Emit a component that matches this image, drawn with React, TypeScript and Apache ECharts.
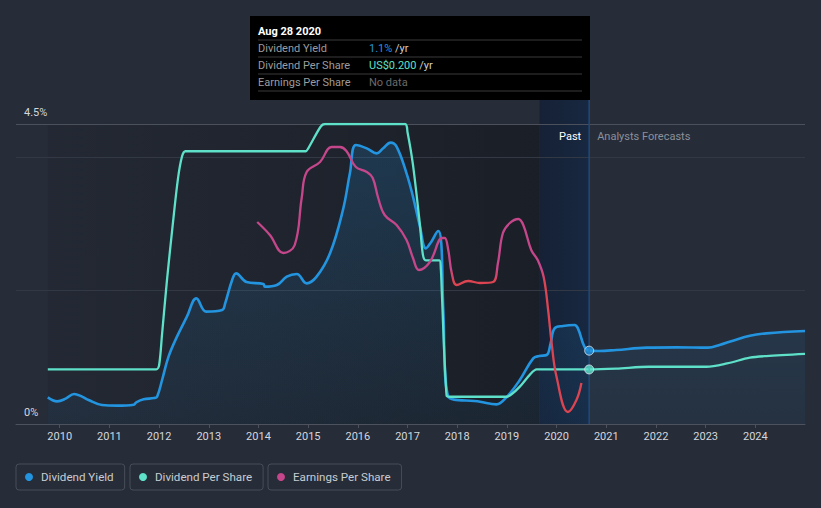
import React, { useEffect, useRef } from "react";
import * as echarts from "echarts";

// ---------- data ----------
const yearTicks = [2010, 2011, 2012, 2013, 2014, 2015, 2016, 2017, 2018, 2019, 2020, 2021, 2022, 2023, 2024];

// Dividend yield, % (decimal year, value)
const dividendYield: [number, number][] = [
  [2009.76, 0.4], [2009.95, 0.34], [2010.12, 0.38], [2010.29, 0.45], [2010.45, 0.41], [2010.58, 0.36],
  [2010.85, 0.285], [2011.15, 0.275], [2011.49, 0.29], [2011.54, 0.325], [2011.69, 0.37], [2011.9, 0.39],
  [2011.96, 0.41], [2012.06, 0.66], [2012.19, 1.01], [2012.36, 1.31], [2012.56, 1.61], [2012.75, 1.885],
  [2012.95, 1.685], [2013.27, 1.71], [2013.33, 1.81], [2013.47, 2.16], [2013.55, 2.26], [2013.76, 2.13],
  [2014.1, 2.1], [2014.13, 2.06], [2014.37, 2.085], [2014.57, 2.21], [2014.77, 2.25], [2014.97, 2.11],
  [2015.17, 2.21], [2015.44, 2.56], [2015.7, 3.21], [2015.84, 3.76], [2015.96, 4.185], [2016.18, 4.135],
  [2016.38, 4.06], [2016.51, 4.135], [2016.66, 4.22], [2016.78, 4.16], [2016.98, 3.76], [2017.11, 3.41],
  [2017.25, 2.96], [2017.37, 2.635], [2017.48, 2.735], [2017.62, 2.895], [2017.68, 2.71], [2017.72, 1.71],
  [2017.82, 0.41], [2018.46, 0.335], [2018.79, 0.295], [2018.99, 0.4], [2019.26, 0.66], [2019.53, 0.985],
  [2019.65, 1.02], [2019.8, 1.035], [2019.88, 1.21], [2019.96, 1.435], [2020.13, 1.47], [2020.36, 1.485],
  [2020.43, 1.435], [2020.56, 1.16], [2020.656, 1.1], [2020.85, 1.095], [2021.2, 1.11], [2021.81, 1.145],
  [2022.41, 1.15], [2023.05, 1.145], [2023.28, 1.185], [2023.55, 1.25], [2023.89, 1.325], [2024.22, 1.36],
  [2025.0, 1.395],
];

// Dividend per share, US$
const dividendPerShare: [number, number][] = [
  [2009.76, 0.2], [2011.94, 0.2], [2012.0, 0.215], [2012.06, 0.33], [2012.16, 0.53], [2012.28, 0.74],
  [2012.38, 0.9], [2012.46, 0.98], [2012.53, 1.0], [2014.95, 1.0], [2015.0, 1.01], [2015.25, 1.09],
  [2015.34, 1.1], [2016.95, 1.1], [2017.0, 1.07], [2017.11, 0.95], [2017.25, 0.73], [2017.31, 0.62],
  [2017.37, 0.6], [2017.64, 0.6], [2017.67, 0.57], [2017.69, 0.485], [2017.785, 0.106], [2017.85, 0.1],
  [2018.99, 0.1], [2019.1, 0.11], [2019.26, 0.137], [2019.46, 0.18], [2019.6, 0.2], [2020.656, 0.2],
  [2021.2, 0.203], [2021.86, 0.21], [2023.02, 0.21], [2023.43, 0.222], [2023.89, 0.243], [2024.22, 0.249],
  [2025.0, 0.257],
];

// Earnings per share, US$
const earningsPerShare: [number, number][] = [
  [2013.975, 2.02], [2014.23, 1.89], [2014.5, 1.71], [2014.73, 1.79], [2014.87, 2.26], [2014.97, 2.52],
  [2015.24, 2.62], [2015.47, 2.77], [2015.64, 2.77], [2015.77, 2.73], [2015.96, 2.57], [2016.18, 2.52],
  [2016.3, 2.46], [2016.41, 2.26], [2016.54, 2.09], [2016.78, 1.99], [2016.98, 1.84], [2017.11, 1.66],
  [2017.23, 1.54], [2017.45, 1.62], [2017.7, 1.86], [2017.75, 1.86], [2017.82, 1.74], [2017.89, 1.51],
  [2017.99, 1.39], [2018.22, 1.43], [2018.46, 1.41], [2018.72, 1.42], [2018.82, 1.61], [2018.92, 1.91],
  [2019.06, 2.01], [2019.23, 2.05], [2019.33, 1.99], [2019.49, 1.74], [2019.62, 1.64], [2019.74, 1.47],
  [2019.83, 1.14], [2019.9, 0.81], [2020.0, 0.47], [2020.23, 0.12], [2020.4, 0.24], [2020.5, 0.41],
];

const presentDate = 2020.656; // Aug 28 2020
const pastWindowStart = 2019.656;
const presentYield = 1.1;
const presentDps = 0.2;

const seriesNames = ["Dividend Yield", "Dividend Per Share", "Earnings Per Share"];
const seriesColors = ["#2394df", "#5ee0c9", "#c5468b"];
const epsRed = "#dc4451";

const tooltipTitle = "Aug 28 2020";
const tooltipLabels = ["Dividend Yield", "Dividend Per Share", "Earnings Per Share"];
const tooltipValues = ["1.1%", "US$0.200", "No data"];

const FONT = "Roboto, 'Noto Sans', sans-serif";

export default function App() {
  const ref = useRef<HTMLDivElement>(null);

  useEffect(() => {
    if (!ref.current) return;
    const chart = echarts.init(ref.current, null, { renderer: "svg" });

    const option: any = {
      animation: false,
      backgroundColor: "#262c38",
      textStyle: { fontFamily: FONT },
      grid: { left: 16, right: 16, top: 124, bottom: 84, containLabel: false },
      xAxis: {
        type: "value",
        min: 2009.12,
        max: 2025,
        axisLine: { show: true, lineStyle: { color: "#4d525e", width: 1 } },
        axisTick: { show: true, length: 4, lineStyle: { color: "#4d525e" }, customValues: yearTicks },
        axisLabel: {
          color: "#d4d7dd",
          fontSize: 11,
          margin: 7,
          fontFamily: FONT,
          customValues: yearTicks,
          formatter: (v: number) => String(Math.round(v)),
        },
        splitLine: { show: false },
      },
      yAxis: [
        {
          type: "value",
          min: 0,
          max: 4.5,
          interval: 2,
          position: "left",
          axisLine: { show: false },
          axisTick: { show: false },
          axisLabel: {
            inside: true,
            margin: 8,
            color: "#d4d7dd",
            fontSize: 11,
            fontFamily: FONT,
            verticalAlign: "bottom",
            padding: [0, 0, 6, 0],
            showMinLabel: true,
            showMaxLabel: true,
            formatter: (v: number) => (v === 0 ? "0%" : v === 4.5 ? "4.5%" : ""),
          },
          splitLine: {
            show: true,
            lineStyle: { color: ["#4d525e", "#323844", "#323844", "#4b505b"], width: 1 },
          },
          z: 1,
        },
        { type: "value", min: 0, max: 1.1, show: false },
        { type: "value", min: 0, max: 3, show: false },
      ],
      visualMap: {
        show: false,
        type: "piecewise",
        seriesIndex: 2,
        dimension: 1,
        pieces: [
          { lt: 1.45, color: epsRed },
          { gte: 1.45, lt: 1.53, color: "#d2456e" },
          { gte: 1.53, color: seriesColors[2] },
        ],
      },
      legend: seriesNames.map((name, i) => ({
        data: [{ name, icon: "circle", itemStyle: { color: seriesColors[i] } }],
        left: [16, 130, 268][i],
        top: 464,
        itemWidth: 14,
        itemHeight: 8,
        itemGap: 0,
        padding: [7, 11, 7, 9],
        borderColor: "#474d59",
        borderWidth: 1,
        borderRadius: 3,
        selectedMode: false,
        textStyle: { color: "#c8ccd3", fontSize: 11.6, fontFamily: FONT },
      })),
      series: [
        {
          name: seriesNames[0],
          type: "line",
          yAxisIndex: 0,
          data: dividendYield,
          smooth: 0.4,
          showSymbol: false,
          lineStyle: { color: seriesColors[0], width: 2.6 },
          itemStyle: { color: seriesColors[0] },
          areaStyle: {
            color: new echarts.graphic.LinearGradient(0, 0, 0, 1, [
              { offset: 0, color: "rgba(35,148,223,0.28)" },
              { offset: 1, color: "rgba(35,148,223,0.08)" },
            ]),
          },
          z: 3,
        },
        {
          name: seriesNames[1],
          type: "line",
          yAxisIndex: 1,
          data: dividendPerShare,
          smooth: 0.3,
          showSymbol: false,
          lineStyle: { color: seriesColors[1], width: 2.3 },
          itemStyle: { color: seriesColors[1] },
          z: 4,
        },
        {
          name: seriesNames[2],
          type: "line",
          yAxisIndex: 2,
          data: earningsPerShare,
          smooth: 0.4,
          showSymbol: false,
          lineStyle: { width: 2.3 },
          itemStyle: { color: seriesColors[2] },
          z: 4,
        },
        {
          name: "present-yield",
          type: "scatter",
          yAxisIndex: 0,
          data: [[presentDate, presentYield]],
          symbolSize: 9,
          itemStyle: { color: seriesColors[0], borderColor: "#dfe8f2", borderWidth: 1 },
          z: 10,
        },
        {
          name: "present-dps",
          type: "scatter",
          yAxisIndex: 1,
          data: [[presentDate, presentDps]],
          symbolSize: 9,
          itemStyle: { color: seriesColors[1], borderColor: "#dfe8f2", borderWidth: 1 },
          z: 10,
        },
      ],
    };

    chart.setOption(option);

    const [xStart, yTop] = chart.convertToPixel({ gridIndex: 0 }, [dividendYield[0][0], 4.5]) as number[];
    const [xBand, yBottom] = chart.convertToPixel({ gridIndex: 0 }, [pastWindowStart, 0]) as number[];
    const [xNow] = chart.convertToPixel({ gridIndex: 0 }, [presentDate, 0]) as number[];

    const boxW = 340;
    const boxX = Math.round(xNow) + 1 - boxW;
    const boxY = 16;
    const lineTop = 100;

    const rowY = [32, 49, 66];
    const valueColors = [seriesColors[0], seriesColors[1], "#6b6b6b"];

    chart.setOption({
      graphic: [
        {
          type: "rect",
          z: -10,
          shape: { x: xStart, y: yTop, width: xBand - xStart, height: yBottom - yTop },
          style: {
            fill: new echarts.graphic.LinearGradient(0, 0, 1, 0, [
              { offset: 0, color: "rgba(15,17,22,0.12)" },
              { offset: 1, color: "rgba(15,17,22,0.5)" },
            ]),
          },
        },
        {
          type: "rect",
          z: -10,
          shape: { x: xBand, y: lineTop, width: xNow - xBand, height: yBottom - lineTop },
          style: {
            fill: new echarts.graphic.LinearGradient(0, 0, 1, 0, [
              { offset: 0, color: "#162136" },
              { offset: 1, color: "#172840" },
            ]),
          },
        },
        {
          type: "line",
          z: 5,
          shape: { x1: xNow, y1: lineTop, x2: xNow, y2: yBottom },
          style: { stroke: "#1f4a7c", lineWidth: 1.5 },
        },
        {
          type: "text",
          z: 6,
          x: xNow - 8,
          y: 136,
          style: { text: "Past", fill: "#ffffff", font: `11px ${FONT}`, align: "right", verticalAlign: "middle" },
        },
        {
          type: "text",
          z: 6,
          x: xNow + 8,
          y: 136,
          style: { text: "Analysts Forecasts", fill: "#8b909a", font: `11px ${FONT}`, align: "left", verticalAlign: "middle" },
        },
        {
          type: "group",
          x: boxX,
          y: boxY,
          z: 100,
          children: [
            { type: "rect", shape: { x: 0, y: 0, width: boxW, height: 84 }, style: { fill: "#000000" } },
            {
              type: "text",
              x: 8,
              y: 15,
              style: { text: tooltipTitle, fill: "#ffffff", font: `bold 11px ${FONT}`, verticalAlign: "middle" },
            },
            ...[24, 41, 58, 75].map((ly) => ({
              type: "line",
              shape: { x1: 8, y1: ly, x2: boxW - 8, y2: ly },
              style: { stroke: "#3a3a3a", lineWidth: 1 },
            })),
            ...tooltipLabels.map((label, i) => ({
              type: "text",
              x: 8,
              y: rowY[i],
              style: { text: label, fill: "#9c9c9c", font: `11px ${FONT}`, verticalAlign: "middle" },
            })),
            ...tooltipValues.map((val, i) => ({
              type: "text",
              x: 119,
              y: rowY[i],
              style: {
                text: i < 2 ? `{v|${val}} {u|/yr}` : `{v|${val}}`,
                verticalAlign: "middle",
                font: `11px ${FONT}`,
                rich: {
                  v: { fill: valueColors[i], fontSize: 11, fontFamily: FONT },
                  u: { fill: "#cfcfcf", fontSize: 11, fontFamily: FONT },
                },
              },
            })),
          ],
        },
      ],
    });

    return () => chart.dispose();
  }, []);

  return (
    <div
      ref={ref}
      style={{ position: "fixed", left: 0, top: 0, width: 821, height: 508 }}
    />
  );
}
